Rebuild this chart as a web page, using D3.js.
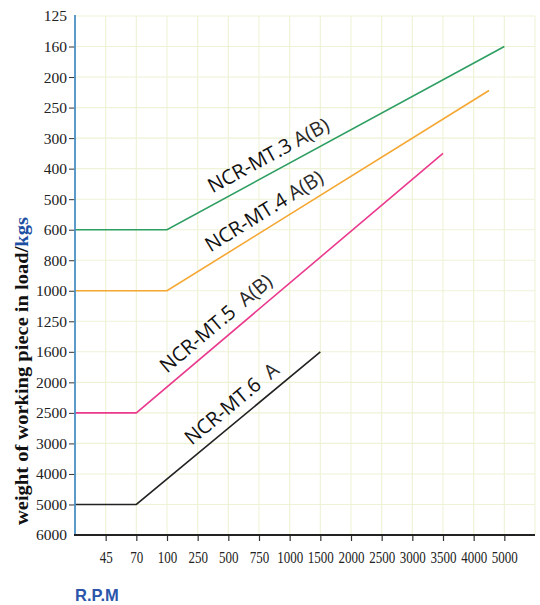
<!DOCTYPE html>
<html>
<head>
<meta charset="utf-8">
<script src="https://cdn.jsdelivr.net/npm/d3@7"></script>
<style>
  html, body { margin: 0; padding: 0; background: #fff; }
  svg { display: block; }
</style>
</head>
<body>
<svg id="chart" width="540" height="605"></svg>
<script>
// ---- data ----
const rpmTicks = [45, 70, 100, 250, 500, 750, 1000, 1500, 2000, 2500, 3000, 3500, 4000, 5000];
const loadTicks = [125, 160, 200, 250, 300, 400, 500, 600, 800, 1000, 1250, 1600, 2000, 2500, 3000, 4000, 5000, 6000];
const rpmOrigin = 20; // value at the axis origin (one step left of 45)

const seriesNames = ["NCR-MT.3", "NCR-MT.4", "NCR-MT.5", "NCR-MT.6"];
const seriesSuffix = ["A(B)", "A(B)", "A(B)", "A"];
const seriesColors = ["#2e9e62", "#f5a733", "#ea3a8e", "#222222"];
const mt3 = [[rpmOrigin, 600], [100, 600], [5000, 160]];
const mt4 = [[rpmOrigin, 1000], [100, 1000], [4500, 222]];
const mt5 = [[rpmOrigin, 2500], [70, 2500], [3500, 350]];
const mt6 = [[rpmOrigin, 5000], [70, 5000], [1500, 1600]];
const seriesData = [mt3, mt4, mt5, mt6];

// ---- layout ----
const svg = d3.select("#chart");
const mLeft = 75, mRight = 535, mTop = 16, mBottom = 535;

const xPoint = d3.scalePoint().domain(rpmTicks).range([mLeft, mRight]).padding(1);
const x = d3.scaleLinear().domain(rpmTicks).range(rpmTicks.map(d => xPoint(d)));
const yPoint = d3.scalePoint().domain(loadTicks).range([mTop, mBottom]).padding(0);
const y = d3.scaleLinear().domain(loadTicks).range(loadTicks.map(d => yPoint(d)));

// grid
const grid = svg.append("g").attr("stroke", "#eef2d6").attr("stroke-width", 1.1);
grid.selectAll("line.h").data(loadTicks).enter().append("line")
  .attr("x1", mLeft).attr("x2", mRight)
  .attr("y1", d => yPoint(d)).attr("y2", d => yPoint(d));
grid.selectAll("line.v").data(rpmTicks.concat(["end"])).enter().append("line")
  .attr("x1", d => d === "end" ? mRight : xPoint(d))
  .attr("x2", d => d === "end" ? mRight : xPoint(d))
  .attr("y1", mTop).attr("y2", mBottom);

// series lines
const line = d3.line().x(d => x(d[0])).y(d => y(d[1]));
seriesData.forEach((s, i) => {
  svg.append("path").attr("d", line(s)).attr("fill", "none")
    .attr("stroke", seriesColors[i]).attr("stroke-width", 1.6);
});

// series labels along the sloped segments
const labelT = [0.149, 0.151, 0.121, 0.335];
const labelOff = [10, 9.5, 10, 9.8];
const labelGap = ["\u00a0", "\u00a0", "\u00a0\u00a0", "\u00a0\u00a0"];
seriesData.forEach((s, i) => {
  const p0 = [x(s[1][0]), y(s[1][1])], p1 = [x(s[2][0]), y(s[2][1])];
  const dx = p1[0] - p0[0], dy = p1[1] - p0[1];
  const len = Math.hypot(dx, dy);
  const ang = Math.atan2(dy, dx) * 180 / Math.PI;
  const nx = dy / len, ny = -dx / len; // normal pointing up-left
  const px = p0[0] + dx * labelT[i] + nx * labelOff[i];
  const py = p0[1] + dy * labelT[i] + ny * labelOff[i];
  const t = svg.append("text")
    .attr("transform", `translate(${px},${py}) rotate(${ang})`)
    .style("font-family", "'Open Sans', 'Noto Sans', sans-serif")
    .style("font-size", "20px").attr("fill", "#111");
  t.append("tspan").text(seriesNames[i]).style("font-weight", 500);
  t.append("tspan").text(labelGap[i] + seriesSuffix[i])
    .attr("fill", "#2a2a2a").style("font-weight", 400);
});

// y axis
const yAxis = d3.axisLeft(yPoint).tickSize(6).tickPadding(2);
const gy = svg.append("g").attr("transform", `translate(${mLeft},0)`).call(yAxis);
gy.attr("font-family", null);
gy.select(".domain").remove();
gy.selectAll(".tick line").attr("stroke", "#333").attr("stroke-width", 1)
  .filter(d => d === loadTicks[0] || d === loadTicks[loadTicks.length - 1]).remove();
gy.selectAll(".tick text")
  .style("font-family", "'Liberation Serif', 'Times New Roman', serif")
  .style("font-size", "15.5px").attr("fill", "#222");
svg.append("line").attr("x1", mLeft).attr("x2", mLeft).attr("y1", mTop - 1).attr("y2", mBottom)
  .attr("stroke", "#4a8fc4").attr("stroke-width", 1.8);

// x axis
const xAxis = d3.axisBottom(xPoint).tickSize(6).tickPadding(10);
const gx = svg.append("g").attr("transform", `translate(0,${mBottom})`).call(xAxis);
gx.attr("font-family", null);
gx.select(".domain").remove();
gx.selectAll(".tick line").attr("stroke", "#333").attr("stroke-width", 1.2);
gx.selectAll(".tick text")
  .style("font-family", "'Liberation Serif', 'Times New Roman', serif")
  .style("font-size", "16.5px").attr("fill", "#222")
  .attr("textLength", d => String(d).length * 6.5).attr("lengthAdjust", "spacingAndGlyphs");
svg.append("line").attr("x1", mLeft - 1).attr("x2", mRight).attr("y1", mBottom).attr("y2", mBottom)
  .attr("stroke", "#222").attr("stroke-width", 1.8);

// axis titles
const yt = svg.append("text")
  .attr("transform", `translate(28,371) rotate(-90)`)
  .attr("text-anchor", "middle")
  .attr("textLength", 308).attr("lengthAdjust", "spacingAndGlyphs")
  .style("font-family", "'Liberation Serif', 'Times New Roman', serif")
  .style("font-size", "19px").style("font-weight", "bold").attr("fill", "#111");
yt.append("tspan").text("weight of working piece in load/");
yt.append("tspan").text("kgs").attr("fill", "#1d4fa3");

svg.append("text").attr("x", 75).attr("y", 601)
  .style("font-family", "'Liberation Sans', Arial, sans-serif")
  .style("font-size", "16.5px").style("font-weight", "bold").attr("fill", "#2a55aa")
  .text("R.P.M");
</script>
</body>
</html>
